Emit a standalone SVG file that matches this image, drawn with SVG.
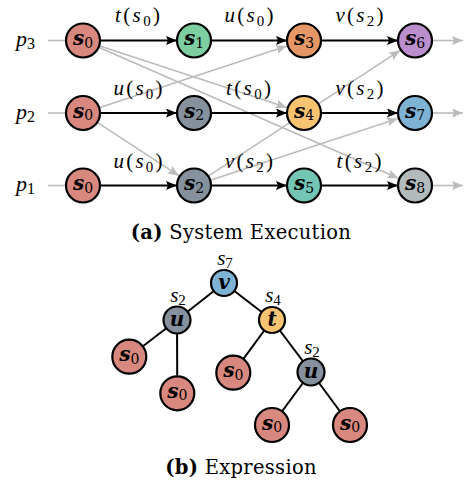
<svg xmlns="http://www.w3.org/2000/svg" width="465" height="484" viewBox="0 0 465 484">
<defs>
<marker id="ab" markerUnits="userSpaceOnUse" markerWidth="12" markerHeight="10" refX="11" refY="4.5" orient="auto">
<path d="M0,0 L11,4.5 L0,9 L2,4.5 Z" fill="#000"/>
</marker>
<marker id="ag" markerUnits="userSpaceOnUse" markerWidth="12" markerHeight="10" refX="11" refY="4.5" orient="auto">
<path d="M0,0 L11,4.5 L0,9 L2,4.5 Z" fill="#bbbbbb"/>
</marker>
</defs>
<style>
text{font-family:"Liberation Serif","DejaVu Serif",serif;fill:#000}
.n{stroke:#000;stroke-width:2.2}
.nl{font-family:"DejaVu Serif","Liberation Serif",serif;font-size:20px;text-anchor:middle}
.nl .m{font-weight:bold;font-style:italic}
.nl .sb{font-size:14px}
.sb{font-size:15px}
.el{font-size:21px;text-anchor:middle}
.i{font-style:italic}
.bk{stroke:#000;stroke-width:2.2;fill:none;marker-end:url(#ab)}
.gr{stroke:#bbbbbb;stroke-width:1.6;fill:none}
.ga{stroke:#bbbbbb;stroke-width:1.6;fill:none;marker-end:url(#ag)}
.te{stroke:#000;stroke-width:2;fill:none}
.r{fill:#D98880}.g{fill:#7DCEA0}.o{fill:#E59866}.p{fill:#BB8FCE}.s{fill:#85929E}.y{fill:#F8C471}.b{fill:#7FB3D5}.t{fill:#73C6B6}.l{fill:#B2BABB}
.cap{font-family:"DejaVu Serif","Liberation Serif",serif;font-size:19.5px;text-anchor:middle;letter-spacing:0.3px}
.tl{font-size:21px;text-anchor:middle}
</style>

<g id="process-labels">
<text x="16" y="46" font-size="22"><tspan class="i">p</tspan><tspan font-size="16" dy="3">3</tspan></text>
<text x="16" y="118.5" font-size="22"><tspan class="i">p</tspan><tspan font-size="16" dy="3">2</tspan></text>
<text x="16" y="191" font-size="22"><tspan class="i">p</tspan><tspan font-size="16" dy="3">1</tspan></text>
</g>

<g id="connectors">
<line class="gr" x1="48" y1="40.5" x2="66" y2="40.5"/>
<line class="gr" x1="48" y1="113" x2="66" y2="113"/>
<line class="gr" x1="48" y1="185.5" x2="66" y2="185.5"/>
<line class="ga" x1="99.2" y1="45.8" x2="286.9" y2="107.4"/>
<line class="ga" x1="98.6" y1="47.3" x2="398.5" y2="178.3"/>
<line class="ga" x1="99.2" y1="107.7" x2="286.9" y2="46.1"/>
<line class="ga" x1="97.2" y1="122.3" x2="178.9" y2="175.7"/>
<line class="ga" x1="208.2" y1="176.2" x2="400" y2="50.4"/>
<line class="ga" x1="210.2" y1="180.2" x2="397.9" y2="118.6"/>
<line class="ga" x1="432" y1="40.5" x2="463" y2="40.5"/>
<line class="ga" x1="432" y1="113" x2="463" y2="113"/>
<line class="ga" x1="432" y1="185.5" x2="463" y2="185.5"/>
<line class="bk" x1="100" y1="40.5" x2="177" y2="40.5"/>
<line class="bk" x1="211" y1="40.5" x2="287" y2="40.5"/>
<line class="bk" x1="321" y1="40.5" x2="398" y2="40.5"/>
<line class="bk" x1="100" y1="113" x2="177" y2="113"/>
<line class="bk" x1="211" y1="113" x2="287" y2="113"/>
<line class="bk" x1="321" y1="113" x2="398" y2="113"/>
<line class="bk" x1="100" y1="185.5" x2="177" y2="185.5"/>
<line class="bk" x1="211" y1="185.5" x2="287" y2="185.5"/>
<line class="bk" x1="321" y1="185.5" x2="398" y2="185.5"/>
<line class="te" x1="224" y1="283" x2="177" y2="320"/>
<line class="te" x1="224" y1="283" x2="272" y2="320"/>
<line class="te" x1="177" y1="320" x2="129.3" y2="356.7"/>
<line class="te" x1="177" y1="320" x2="177.3" y2="393.3"/>
<line class="te" x1="272" y1="320" x2="233.3" y2="372.7"/>
<line class="te" x1="272" y1="320" x2="311" y2="372"/>
<line class="te" x1="311" y1="372" x2="272" y2="425"/>
<line class="te" x1="311" y1="372" x2="350" y2="425"/>
</g>

<g id="edge-labels">
<text class="el" x="137.5" y="22" textLength="45"><tspan class="i">t</tspan>(<tspan class="i">s</tspan><tspan class="sb" dy="4">0</tspan><tspan dy="-4">)</tspan></text>
<text class="el" x="249" y="22" textLength="49"><tspan class="i">u</tspan>(<tspan class="i">s</tspan><tspan class="sb" dy="4">0</tspan><tspan dy="-4">)</tspan></text>
<text class="el" x="359.5" y="22" textLength="48"><tspan class="i">v</tspan>(<tspan class="i">s</tspan><tspan class="sb" dy="4">2</tspan><tspan dy="-4">)</tspan></text>
<text class="el" x="138" y="95" textLength="49"><tspan class="i">u</tspan>(<tspan class="i">s</tspan><tspan class="sb" dy="4">0</tspan><tspan dy="-4">)</tspan></text>
<text class="el" x="248.5" y="95" textLength="45"><tspan class="i">t</tspan>(<tspan class="i">s</tspan><tspan class="sb" dy="4">0</tspan><tspan dy="-4">)</tspan></text>
<text class="el" x="359.5" y="95" textLength="48"><tspan class="i">v</tspan>(<tspan class="i">s</tspan><tspan class="sb" dy="4">2</tspan><tspan dy="-4">)</tspan></text>
<text class="el" x="138" y="167.5" textLength="49"><tspan class="i">u</tspan>(<tspan class="i">s</tspan><tspan class="sb" dy="4">0</tspan><tspan dy="-4">)</tspan></text>
<text class="el" x="249" y="167.5" textLength="48"><tspan class="i">v</tspan>(<tspan class="i">s</tspan><tspan class="sb" dy="4">2</tspan><tspan dy="-4">)</tspan></text>
<text class="el" x="359" y="167.5" textLength="45"><tspan class="i">t</tspan>(<tspan class="i">s</tspan><tspan class="sb" dy="4">2</tspan><tspan dy="-4">)</tspan></text>
</g>

<g id="p3-s0"><circle class="n r" cx="83" cy="40.5" r="17"/><text class="nl" x="83" y="45"><tspan class="m">s</tspan><tspan class="sb" dy="2.5">0</tspan></text></g>
<g id="p3-s1"><circle class="n g" cx="194" cy="40.5" r="17"/><text class="nl" x="194" y="45"><tspan class="m">s</tspan><tspan class="sb" dy="2.5">1</tspan></text></g>
<g id="p3-s3"><circle class="n o" cx="304" cy="40.5" r="17"/><text class="nl" x="304" y="45"><tspan class="m">s</tspan><tspan class="sb" dy="2.5">3</tspan></text></g>
<g id="p3-s6"><circle class="n p" cx="415" cy="40.5" r="17"/><text class="nl" x="415" y="45"><tspan class="m">s</tspan><tspan class="sb" dy="2.5">6</tspan></text></g>
<g id="p2-s0"><circle class="n r" cx="83" cy="113" r="17"/><text class="nl" x="83" y="117.5"><tspan class="m">s</tspan><tspan class="sb" dy="2.5">0</tspan></text></g>
<g id="p2-s2"><circle class="n s" cx="194" cy="113" r="17"/><text class="nl" x="194" y="117.5"><tspan class="m">s</tspan><tspan class="sb" dy="2.5">2</tspan></text></g>
<g id="p2-s4"><circle class="n y" cx="304" cy="113" r="17"/><text class="nl" x="304" y="117.5"><tspan class="m">s</tspan><tspan class="sb" dy="2.5">4</tspan></text></g>
<g id="p2-s7"><circle class="n b" cx="415" cy="113" r="17"/><text class="nl" x="415" y="117.5"><tspan class="m">s</tspan><tspan class="sb" dy="2.5">7</tspan></text></g>
<g id="p1-s0"><circle class="n r" cx="83" cy="185.5" r="17"/><text class="nl" x="83" y="190"><tspan class="m">s</tspan><tspan class="sb" dy="2.5">0</tspan></text></g>
<g id="p1-s2"><circle class="n s" cx="194" cy="185.5" r="17"/><text class="nl" x="194" y="190"><tspan class="m">s</tspan><tspan class="sb" dy="2.5">2</tspan></text></g>
<g id="p1-s5"><circle class="n t" cx="304" cy="185.5" r="17"/><text class="nl" x="304" y="190"><tspan class="m">s</tspan><tspan class="sb" dy="2.5">5</tspan></text></g>
<g id="p1-s8"><circle class="n l" cx="415" cy="185.5" r="17"/><text class="nl" x="415" y="190"><tspan class="m">s</tspan><tspan class="sb" dy="2.5">8</tspan></text></g>

<g id="caption-a"><text class="cap" x="241" y="239"><tspan font-weight="bold">(a)</tspan> System Execution</text></g>

<g id="tree-v"><circle class="n b" cx="224" cy="283" r="13"/><text class="nl" x="224" y="289"><tspan class="m">v</tspan></text><text class="tl" x="225" y="265"><tspan class="i">s</tspan><tspan class="sb" dy="3">7</tspan></text></g>
<g id="tree-u"><circle class="n s" cx="177" cy="320" r="13.5"/><text class="nl" x="177" y="326"><tspan class="m">u</tspan></text><text class="tl" x="178" y="302"><tspan class="i">s</tspan><tspan class="sb" dy="3">2</tspan></text></g>
<g id="tree-t"><circle class="n y" cx="272" cy="320" r="13"/><text class="nl" x="272" y="326"><tspan class="m">t</tspan></text><text class="tl" x="273" y="302"><tspan class="i">s</tspan><tspan class="sb" dy="3">4</tspan></text></g>
<g id="tree-u2"><circle class="n s" cx="311" cy="372" r="13.5"/><text class="nl" x="311" y="378"><tspan class="m">u</tspan></text><text class="tl" x="312" y="354"><tspan class="i">s</tspan><tspan class="sb" dy="3">2</tspan></text></g>
<g id="tree-leaf1"><circle class="n r" cx="129.3" cy="356.7" r="17"/><text class="nl" x="129.3" y="361.2"><tspan class="m">s</tspan><tspan class="sb" dy="2.5">0</tspan></text></g>
<g id="tree-leaf2"><circle class="n r" cx="177.3" cy="393.3" r="17"/><text class="nl" x="177.3" y="397.8"><tspan class="m">s</tspan><tspan class="sb" dy="2.5">0</tspan></text></g>
<g id="tree-leaf3"><circle class="n r" cx="233.3" cy="372.7" r="17"/><text class="nl" x="233.3" y="377.2"><tspan class="m">s</tspan><tspan class="sb" dy="2.5">0</tspan></text></g>
<g id="tree-leaf4"><circle class="n r" cx="272" cy="425" r="17"/><text class="nl" x="272" y="429.5"><tspan class="m">s</tspan><tspan class="sb" dy="2.5">0</tspan></text></g>
<g id="tree-leaf5"><circle class="n r" cx="350" cy="425" r="17"/><text class="nl" x="350" y="429.5"><tspan class="m">s</tspan><tspan class="sb" dy="2.5">0</tspan></text></g>

<g id="caption-b"><text class="cap" x="241" y="474"><tspan font-weight="bold">(b)</tspan> Expression</text></g>
</svg>
